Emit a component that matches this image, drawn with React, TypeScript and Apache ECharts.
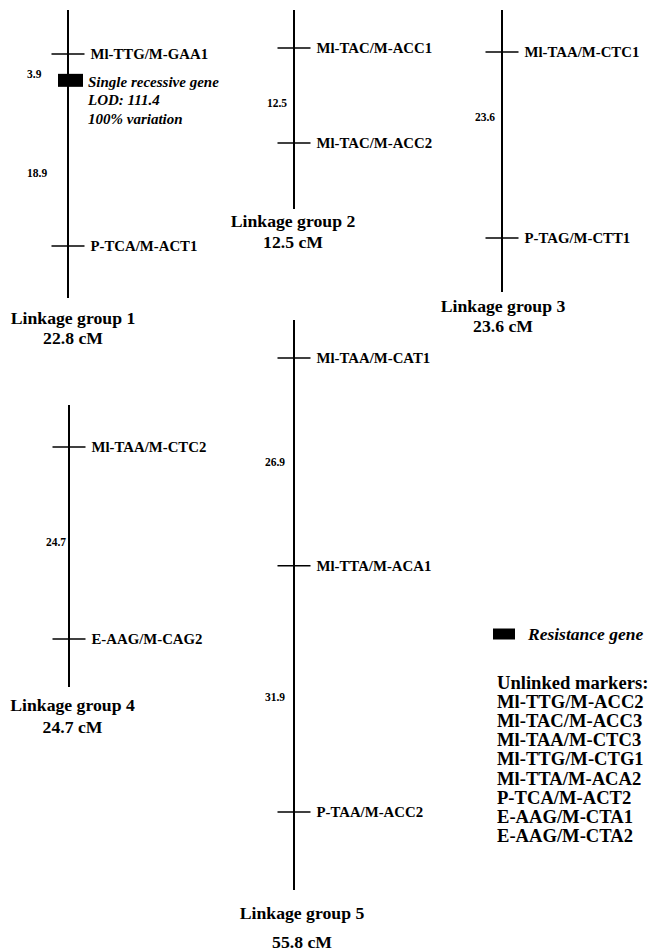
import React, { useEffect, useRef } from 'react';
import * as echarts from 'echarts';

const FONT = '"Liberation Serif", "Times New Roman", Times, serif';

// ---- data ----
const groupNames = ['Linkage group 1', 'Linkage group 2', 'Linkage group 3', 'Linkage group 4', 'Linkage group 5'];
const groupLengths = ['22.8', '12.5', '23.6', '24.7', '55.8'];
const markerNames = [
  ['Ml-TTG/M-GAA1', 'P-TCA/M-ACT1'],
  ['Ml-TAC/M-ACC1', 'Ml-TAC/M-ACC2'],
  ['Ml-TAA/M-CTC1', 'P-TAG/M-CTT1'],
  ['Ml-TAA/M-CTC2', 'E-AAG/M-CAG2'],
  ['Ml-TAA/M-CAT1', 'Ml-TTA/M-ACA1', 'P-TAA/M-ACC2'],
];
const markerPositions = [
  [0, 22.8],
  [0, 12.5],
  [0, 23.6],
  [0, 24.7],
  [0, 26.9, 58.8],
];
const intervalDistances = [[3.9, 18.9], [12.5], [23.6], [24.7], [26.9, 31.9]];
const geneGroup = 0;
const genePosition = 3.9;
const geneLabel = ['Single recessive gene', 'LOD: 111.4', '100% variation'];
const legendLabel = 'Resistance gene';
const unlinkedTitle = 'Unlinked markers:';
const unlinkedMarkers = [
  'Ml-TTG/M-ACC2',
  'Ml-TAC/M-ACC3',
  'Ml-TAA/M-CTC3',
  'Ml-TTG/M-CTG1',
  'Ml-TTA/M-ACA2',
  'P-TCA/M-ACT2',
  'E-AAG/M-CTA1',
  'E-AAG/M-CTA2',
];

// ---- layout (pixels) ----
const layout = [
  { lineX: 68, top: 10, bottom: 298, first: 54, last: 246, distX: -41, distAlign: 'left', distDy: [4, 6.5], titleX: 73, titleY: 318, lenY: 338 },
  { lineX: 294, top: 10, bottom: 209, first: 48, last: 143, distX: -7, distAlign: 'right', distDy: [7.5], titleX: 293, titleY: 221, lenY: 242 },
  { lineX: 502, top: 10, bottom: 292, first: 52, last: 238, distX: -7, distAlign: 'right', distDy: [-28], titleX: 503, titleY: 306, lenY: 326 },
  { lineX: 69, top: 405, bottom: 687, first: 447, last: 639, distX: -3, distAlign: 'right', distDy: [-1.5], titleX: 72.5, titleY: 705, lenY: 727 },
  { lineX: 294, top: 320, bottom: 890, first: 358, last: 812, distX: -9, distAlign: 'right', distDy: [0, 8], titleX: 302, titleY: 913, lenY: 942 },
];

export default function App() {
  const ref = useRef<HTMLDivElement>(null);
  useEffect(() => {
    const chart = echarts.init(ref.current!, null, { renderer: 'svg' });
    const grid: any[] = [];
    const xAxis: any[] = [];
    const yAxis: any[] = [];
    const series: any[] = [];
    const graphic: any[] = [];
    const textBase = { fontFamily: FONT, fontWeight: 'bold', color: '#000', opacity: 1 };

    const titleText = (text: string, x: number, y: number, size: number, align: string) => ({
      type: 'text',
      x,
      y,
      style: {
        text,
        fill: '#000',
        fontFamily: FONT,
        fontWeight: 'bold',
        fontSize: size,
        align,
        verticalAlign: 'middle',
        textAlign: align,
        textVerticalAlign: 'middle',
      },
    });

    layout.forEach((L, i) => {
      const pos = markerPositions[i];
      const firstCm = pos[0];
      const lastCm = pos[pos.length - 1];
      const scale = (L.last - L.first) / (lastCm - firstCm);
      const yMin = firstCm - (L.first - L.top) / scale;
      const yMax = lastCm + (L.bottom - L.last) / scale;
      grid.push({ left: L.lineX - 50, top: L.top, width: 100, height: L.bottom - L.top });
      xAxis.push({ type: 'value', gridIndex: i, min: -50, max: 50, show: false });
      yAxis.push({ type: 'value', gridIndex: i, min: yMin, max: yMax, inverse: true, show: false });

      series.push({
        type: 'line',
        xAxisIndex: i,
        yAxisIndex: i,
        data: [[0, yMin], [0, yMax]],
        symbol: 'none',
        lineStyle: { color: '#000', width: 2 },
        silent: true,
        z: 1,
      });

      series.push({
        type: 'scatter',
        xAxisIndex: i,
        yAxisIndex: i,
        data: pos.map((p, k) => [0, p, markerNames[i][k]]),
        symbol: 'rect',
        symbolSize: [33, 1.6],
        itemStyle: { color: '#000', opacity: 1 },
        silent: true,
        z: 2,
        label: {
          show: true,
          position: 'right',
          distance: 6,
          formatter: (p: any) => p.data[2],
          ...textBase,
          fontSize: 14.8,
        },
      });

      let start = firstCm;
      const distData = intervalDistances[i].map((d, k) => {
        const mid = start + d / 2;
        start += d;
        return {
          value: [0, mid, d.toFixed(1)],
          label: { offset: [L.distX, L.distDy[k]] },
        };
      });
      series.push({
        type: 'scatter',
        xAxisIndex: i,
        yAxisIndex: i,
        data: distData,
        symbolSize: 1,
        itemStyle: { color: 'rgba(0,0,0,0)', opacity: 1 },
        silent: true,
        label: {
          show: true,
          position: 'inside',
          align: L.distAlign,
          verticalAlign: 'middle',
          formatter: (p: any) => p.value[2],
          ...textBase,
          textBorderWidth: 0,
          fontSize: 11.5,
        },
      });

      if (i === geneGroup) {
        series.push({
          name: legendLabel,
          type: 'scatter',
          xAxisIndex: i,
          yAxisIndex: i,
          data: [[0, genePosition]],
          symbol: 'rect',
          symbolSize: [25, 13],
          symbolOffset: [2.5, -6.5],
          itemStyle: { color: '#000', opacity: 1 },
          silent: true,
          z: 3,
          label: {
            show: true,
            position: 'right',
            distance: 5,
            offset: [0, 20],
            formatter: () => geneLabel.join('\n'),
            ...textBase,
            fontStyle: 'italic',
            fontSize: 15,
            lineHeight: 18.5,
          },
        });
      }

      graphic.push(titleText(groupNames[i], L.titleX, L.titleY, 17.7, 'center'));
      graphic.push(titleText(`${groupLengths[i]} cM`, L.titleX, L.lenY, 17.7, 'center'));
    });

    [unlinkedTitle, ...unlinkedMarkers].forEach((t, k) => {
      graphic.push(titleText(t, 497, 682 + k * 19.2, 18.6, 'left'));
    });

    chart.setOption({
      animation: false,
      backgroundColor: '#fff',
      grid,
      xAxis,
      yAxis,
      series,
      graphic,
      legend: {
        data: [{ name: legendLabel, icon: 'rect' }],
        left: 493,
        top: 625,
        padding: 0,
        itemWidth: 22,
        itemHeight: 11,
        selectedMode: false,
        textStyle: {
          fontFamily: FONT,
          fontWeight: 'bold',
          fontStyle: 'italic',
          fontSize: 17.5,
          color: '#000',
          padding: [0, 0, 0, 8],
        },
      },
    });
    return () => chart.dispose();
  }, []);
  return (
    <div
      ref={ref}
      style={{ position: 'absolute', left: 0, top: 0, width: 662, height: 951, background: '#fff' }}
    />
  );
}
